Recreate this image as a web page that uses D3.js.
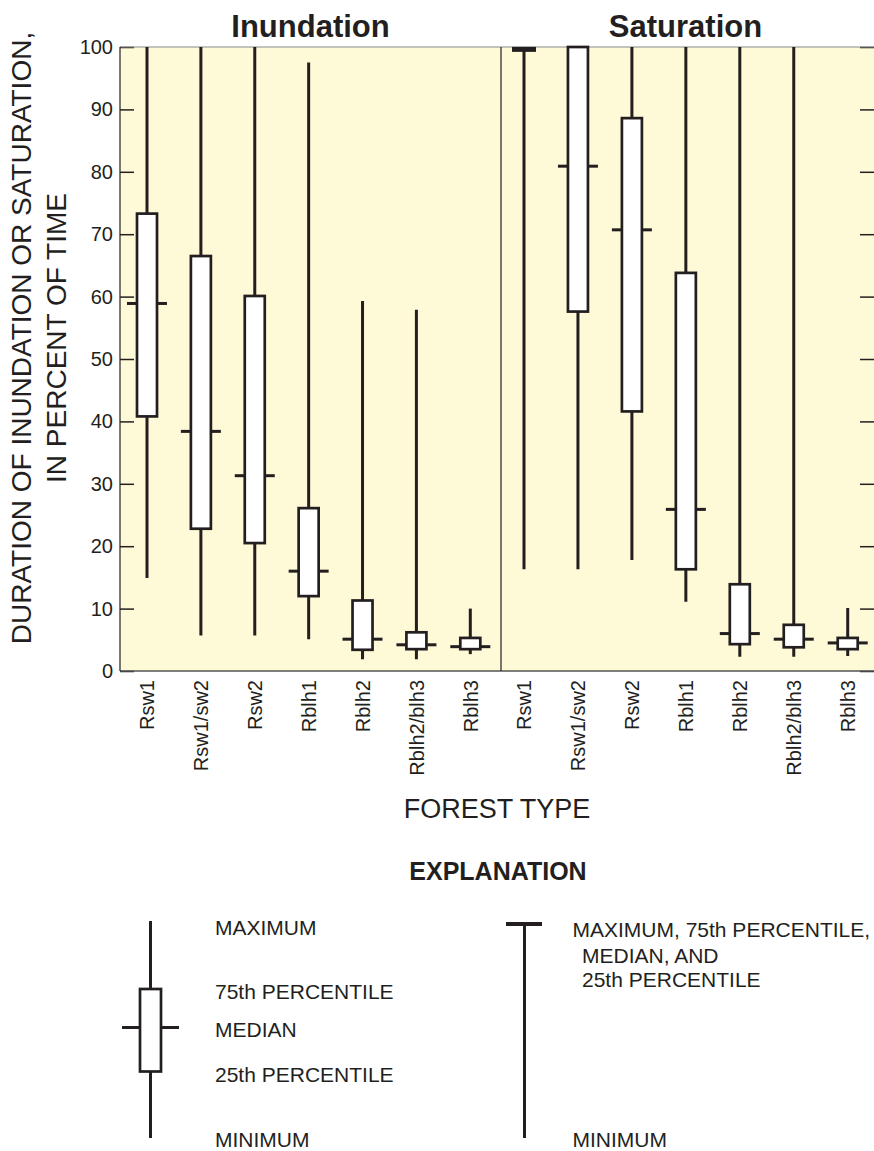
<!DOCTYPE html>
<html>
<head>
<meta charset="utf-8">
<script src="https://cdn.jsdelivr.net/npm/d3@7"></script>
<style>
  body { margin: 0; background: #fff; }
  text { font-family: "Liberation Sans", Arial, Helvetica, sans-serif; fill: #231f20; }
</style>
</head>
<body>
<div id="chart"></div>
<script>
// forest types (same order in both panels)
var categories = ["Rsw1", "Rsw1/sw2", "Rsw2", "Rblh1", "Rblh2", "Rblh2/blh3", "Rblh3"];
var panelTitles = ["Inundation", "Saturation"];
var yTicks = [0, 10, 20, 30, 40, 50, 60, 70, 80, 90, 100];

// Inundation, percent of time
var inundMax = [100, 100, 100, 97.5, 59.3, 57.9, 10.0];
var inundQ3  = [73.3, 66.5, 60.1, 26.1, 11.3, 6.2, 5.3];
var inundMed = [58.9, 38.4, 31.3, 16.0, 5.1, 4.2, 3.9];
var inundQ1  = [40.8, 22.8, 20.5, 12.0, 3.4, 3.5, 3.5];
var inundMin = [14.9, 5.7, 5.7, 5.1, 1.9, 1.9, 2.7];

// Saturation, percent of time
var satMax = [99.7, 100, 100, 100, 100, 100, 10.1];
var satQ3  = [99.7, 100, 88.6, 63.8, 13.9, 7.4, 5.3];
var satMed = [99.7, 80.9, 70.7, 25.9, 6.0, 5.1, 4.5];
var satQ1  = [99.7, 57.6, 41.6, 16.3, 4.3, 3.8, 3.5];
var satMin = [16.3, 16.3, 17.8, 11.1, 2.3, 2.3, 2.4];

var ink = "#231f20";
var svgWidth = 874;
var svgHeight = 1151;

var plotLeft = 120, plotRight = 874, plotTop = 47, plotBottom = 671, divider = 501;

var svg = d3.select("#chart")
  .append("svg")
  .attr("width", svgWidth)
  .attr("height", svgHeight);

var yScale = d3.scaleLinear().domain([0, 100]).range([plotBottom, plotTop]);

// one x scale per panel
var xInund = d3.scalePoint().domain(categories).range([147, 470.3]);
var xSat = d3.scalePoint().domain(categories).range([524, 847.7]);

function toRows(mx, q3, md, q1, mn) {
  return categories.map(function(c, i) {
    return { cat: c, max: mx[i], q3: q3[i], med: md[i], q1: q1[i], min: mn[i] };
  });
}

var panels = [
  { title: panelTitles[0], x: xInund, left: plotLeft, right: divider, rows: toRows(inundMax, inundQ3, inundMed, inundQ1, inundMin) },
  { title: panelTitles[1], x: xSat, left: divider, right: plotRight, rows: toRows(satMax, satQ3, satMed, satQ1, satMin) }
];

// background
svg.append("rect")
  .attr("x", plotLeft).attr("y", plotTop)
  .attr("width", plotRight - plotLeft).attr("height", plotBottom - plotTop)
  .attr("fill", "#fef9d6");

// axes with inward ticks
var leftAxis = d3.axisLeft(yScale).tickValues(yTicks).tickSizeInner(-14).tickSizeOuter(0).tickPadding(7);
var gLeft = svg.append("g").attr("transform", `translate(${plotLeft},0)`).call(leftAxis);
gLeft.select(".domain").remove();
gLeft.selectAll(".tick line").attr("stroke", ink).attr("stroke-width", 1.5);
gLeft.selectAll(".tick text").attr("font-size", "20px").attr("fill", ink);

var rightAxis = d3.axisRight(yScale).tickValues(yTicks).tickSizeInner(-14).tickSizeOuter(0).tickFormat("");
var gRight = svg.append("g").attr("transform", `translate(${plotRight},0)`).call(rightAxis);
gRight.select(".domain").remove();
gRight.selectAll(".tick line").attr("stroke", ink).attr("stroke-width", 1.5);

// frame
svg.append("line").attr("x1", plotLeft).attr("x2", plotRight).attr("y1", plotTop).attr("y2", plotTop)
  .attr("stroke", "#8a8a8a").attr("stroke-width", 1.2);
svg.append("line").attr("x1", plotLeft).attr("x2", plotRight).attr("y1", plotBottom).attr("y2", plotBottom)
  .attr("stroke", "#555").attr("stroke-width", 1.5);
svg.append("line").attr("x1", plotLeft).attr("x2", plotLeft).attr("y1", plotTop).attr("y2", plotBottom)
  .attr("stroke", ink).attr("stroke-width", 1.2);
svg.append("line").attr("x1", divider).attr("x2", divider).attr("y1", plotTop).attr("y2", plotBottom)
  .attr("stroke", ink).attr("stroke-width", 1.2);

var boxHalf = 10;
var medExt = 10;

panels.forEach(function(p) {
  var g = svg.append("g");

  // panel title
  svg.append("text")
    .attr("x", (p.left + p.right) / 2 + (p.title === "Saturation" ? -2 : 0))
    .attr("y", 37)
    .attr("text-anchor", "middle")
    .attr("font-size", "31px")
    .attr("font-weight", "bold")
    .text(p.title);

  // whiskers
  g.selectAll(".whisker")
    .data(p.rows)
    .enter()
    .append("line")
    .attr("x1", d => p.x(d.cat)).attr("x2", d => p.x(d.cat))
    .attr("y1", d => yScale(d.max)).attr("y2", d => yScale(d.min))
    .attr("stroke", ink).attr("stroke-width", 3);

  // boxes
  g.selectAll(".box")
    .data(p.rows)
    .enter()
    .append("rect")
    .attr("x", d => p.x(d.cat) - boxHalf)
    .attr("y", d => yScale(d.q3))
    .attr("width", boxHalf * 2)
    .attr("height", d => Math.max(yScale(d.q1) - yScale(d.q3), 1))
    .attr("fill", "#fff")
    .attr("stroke", ink).attr("stroke-width", d => d.q1 === d.q3 ? 4 : 2.7);

  // median ticks, outside the box only
  var withBox = p.rows.filter(d => d.q1 !== d.q3);
  [-1, 1].forEach(function(side) {
    g.selectAll(".med" + side)
      .data(withBox)
      .enter()
      .append("line")
      .attr("x1", d => p.x(d.cat) + side * boxHalf)
      .attr("x2", d => p.x(d.cat) + side * (boxHalf + medExt))
      .attr("y1", d => yScale(d.med)).attr("y2", d => yScale(d.med))
      .attr("stroke", ink).attr("stroke-width", 3);
  });

  // category labels
  g.selectAll(".cat")
    .data(categories)
    .enter()
    .append("text")
    .attr("transform", d => `translate(${p.x(d)}, 680) rotate(-90)`)
    .attr("text-anchor", "end")
    .attr("dy", "0.36em")
    .attr("font-size", "20px")
    .text(d => d);
});

// axis titles
var yTitle = svg.append("text")
  .attr("transform", "translate(0, 338) rotate(-90)")
  .attr("text-anchor", "middle")
  .attr("font-size", "28px");
yTitle.append("tspan").attr("x", 0).attr("y", 31).text("DURATION OF INUNDATION OR SATURATION,");
yTitle.append("tspan").attr("x", 0).attr("y", 66).text("IN PERCENT OF TIME");

svg.append("text")
  .attr("x", 497).attr("y", 818)
  .attr("text-anchor", "middle")
  .attr("font-size", "27px")
  .text("FOREST TYPE");

// explanation
svg.append("text")
  .attr("x", 498).attr("y", 880)
  .attr("text-anchor", "middle")
  .attr("font-size", "25px")
  .attr("font-weight", "bold")
  .text("EXPLANATION");

var leg = svg.append("g");
leg.append("line").attr("x1", 150.5).attr("x2", 150.5).attr("y1", 921).attr("y2", 1138)
  .attr("stroke", ink).attr("stroke-width", 3);
leg.append("rect").attr("x", 140).attr("y", 989).attr("width", 21).attr("height", 82.5)
  .attr("fill", "#fff").attr("stroke", ink).attr("stroke-width", 2.7);
leg.append("line").attr("x1", 122).attr("x2", 140).attr("y1", 1027.5).attr("y2", 1027.5)
  .attr("stroke", ink).attr("stroke-width", 3);
leg.append("line").attr("x1", 161).attr("x2", 179).attr("y1", 1027.5).attr("y2", 1027.5)
  .attr("stroke", ink).attr("stroke-width", 3);

leg.append("line").attr("x1", 524.5).attr("x2", 524.5).attr("y1", 923).attr("y2", 1138)
  .attr("stroke", ink).attr("stroke-width", 3);
leg.append("line").attr("x1", 506).attr("x2", 542).attr("y1", 924).attr("y2", 924)
  .attr("stroke", ink).attr("stroke-width", 4);

var legLeft = [["MAXIMUM", 935], ["75th PERCENTILE", 999], ["MEDIAN", 1036.5], ["25th PERCENTILE", 1081.5], ["MINIMUM", 1146.5]];
legLeft.forEach(function(t) {
  leg.append("text").attr("x", 215).attr("y", t[1]).attr("font-size", "21px").text(t[0]);
});
var legRight = [["MAXIMUM, 75th PERCENTILE,", 572.5, 937], ["MEDIAN, AND", 582, 962.5], ["25th PERCENTILE", 582, 987], ["MINIMUM", 572.5, 1146.5]];
legRight.forEach(function(t) {
  leg.append("text").attr("x", t[1]).attr("y", t[2]).attr("font-size", "21px").text(t[0]);
});
</script>
</body>
</html>
